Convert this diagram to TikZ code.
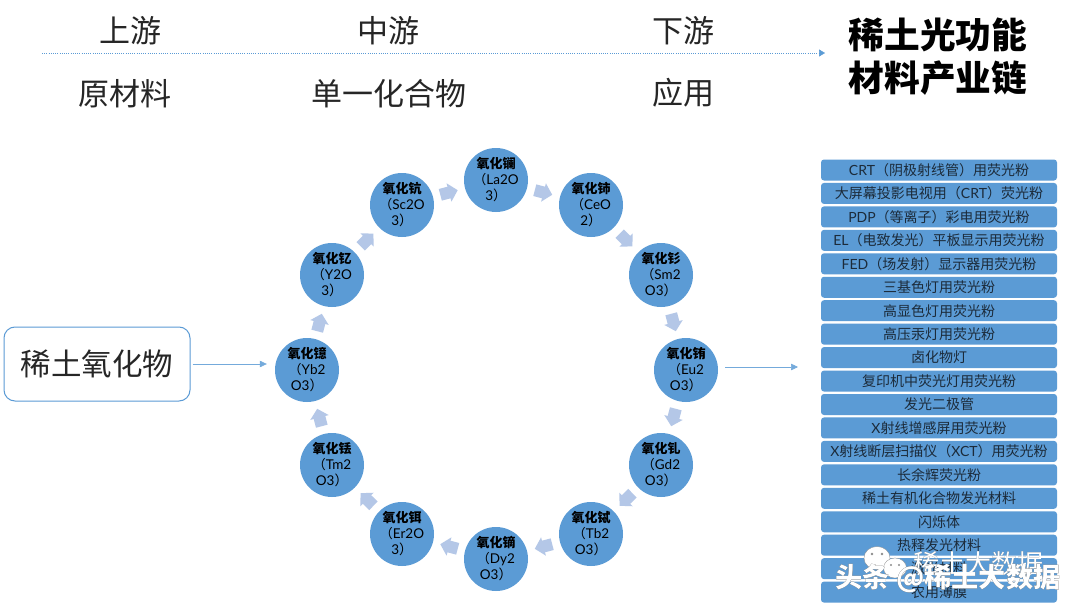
\documentclass[tikz,border=0pt]{standalone}
\usepackage{fontspec}
\usepackage[outline]{contour}
\usetikzlibrary{calc,arrows.meta}
\setmainfont{Noto Sans CJK SC}
\newfontfamily\lat{Lato}
\definecolor{blu}{HTML}{5B9BD5}
\definecolor{pale}{HTML}{B4C7E7}
\definecolor{ink}{HTML}{1C2B3A}
\tikzset{
 x=1pt,y=-1pt,
 head/.style={font=\fontsize{31}{31}\selectfont,text=black!85,inner sep=0pt},
 ttl/.style={font=\fontsize{35.7}{36}\selectfont\bfseries,text=black,inner sep=0pt},
 ball/.style={circle,fill=blu,minimum size=64pt,inner sep=-10pt,align=center,text width=54pt,text=black,font=\fontsize{13}{16}\selectfont},
 bar/.style={rounded corners=3pt,fill=blu,minimum width=236pt,minimum height=21pt,inner sep=0pt,text=ink,font=\fontsize{14}{14}\selectfont},
 conn/.style={draw=blu!85,line width=.6pt,-{Triangle[length=7pt,width=6.5pt]}},
}
% a pale block arrow half way between two named circles, along the line joining them
\newcommand{\hoparrow}[2]{%
 \pgfmathanglebetweenpoints{\pgfpointanchor{#1}{center}}{\pgfpointanchor{#2}{center}}%
 \let\hopangle\pgfmathresult
 \fill[pale,shift={($(#1)!.5!(#2)$)},rotate=\hopangle] (-9,-6) -- (0,-6) -- (0,-9.5) -- (9,0) -- (0,9.5) -- (0,6) -- (-9,6) -- cycle;}
\newcommand{\ballnode}[5]{\node[ball] (#1) at (#2,#3) {\textbf{#4}\\（{\lat\fontsize{13.5}{16}\selectfont #5}};}
\begin{document}
\begin{tikzpicture}
\useasboundingbox (0,0) rectangle (1080,613);
\fill[white] (0,0) rectangle (1080,613);
\node[head] (h1) at (130,31) {上游};
\node[head] (h2) at (388,31) {中游};
\node[head] (h3) at (683,31) {下游};
\node[head] (s1) at (125,94) {原材料};
\node[head] (s2) at (389,94) {单一化合物};
\node[head] (s3) at (683,93) {应用};
\node[ttl] (t1) at (938,35) {稀土光功能};
\node[ttl] (t2) at (938,78) {材料产业链};
\coordinate (flowa) at (42,53);
\coordinate (flowb) at (825,53);
\draw[blu,line width=.5pt,dash pattern=on 1pt off 1.2pt,-{Triangle[length=6pt,width=7pt]}] (flowa) -- (flowb);

\node[draw=blu,line width=1pt,fill=white,rounded corners=11pt,minimum width=186pt,minimum height=74pt,inner sep=0pt,font=\fontsize{30.5}{30}\selectfont,text=black!85] (box) at (97,364) {稀土氧化物};

\ballnode{la}{496}{180}{氧化镧}{La2O\\3{\rmfamily ）}}
\ballnode{ce}{591}{205}{氧化铈}{CeO\\2{\rmfamily ）}}
\ballnode{sm}{661}{275}{氧化钐}{Sm2\\O3{\rmfamily ）}}
\ballnode{eu}{686}{370}{氧化铕}{Eu2\\O3{\rmfamily ）}}
\ballnode{gd}{661}{465}{氧化钆}{Gd2\\O3{\rmfamily ）}}
\ballnode{tb}{591}{534}{氧化铽}{Tb2\\O3{\rmfamily ）}}
\ballnode{dy}{496}{559}{氧化镝}{Dy2\\O3{\rmfamily ）}}
\ballnode{er}{402}{534}{氧化铒}{Er2O\\3{\rmfamily ）}}
\ballnode{tm}{332}{465}{氧化铥}{Tm2\\O3{\rmfamily ）}}
\ballnode{yb}{307}{370}{氧化镱}{Yb2\\O3{\rmfamily ）}}
\ballnode{y}{332}{275}{氧化钇}{Y2O\\3{\rmfamily ）}}
\ballnode{sc}{402}{205}{氧化钪}{Sc2O\\3{\rmfamily ）}}

\hoparrow{la}{ce}
\hoparrow{ce}{sm}
\hoparrow{sm}{eu}
\hoparrow{eu}{gd}
\hoparrow{gd}{tb}
\hoparrow{tb}{dy}
\hoparrow{dy}{er}
\hoparrow{er}{tm}
\hoparrow{tm}{yb}
\hoparrow{yb}{y}
\hoparrow{y}{sc}
\hoparrow{sc}{la}

\draw[conn,shorten <=2pt,shorten >=8pt] (box.east) -- (box.east -| yb.west);
\coordinate (euout) at (798,367);
\draw[conn,shorten <=7pt] (eu.east |- euout) -- (euout);

\foreach \n/\t [count=\i from 0] in {
 b1/{{\lat CRT}（阴极射线管）用荧光粉},
 b2/{大屏幕投影电视用（{\lat CRT}）荧光粉},
 b3/{{\lat PDP}（等离子）彩电用荧光粉},
 b4/{{\lat EL}（电致发光）平板显示用荧光粉},
 b5/{{\lat FED}（场发射）显示器用荧光粉},
 b6/{三基色灯用荧光粉},
 b7/{高显色灯用荧光粉},
 b8/{高压汞灯用荧光粉},
 b9/{卤化物灯},
 b10/{复印机中荧光灯用荧光粉},
 b11/{发光二极管},
 b12/{{\lat X}射线增感屏用荧光粉},
 b13/{{\lat X}射线断层扫描仪（{\lat XCT}）用荧光粉},
 b14/{长余辉荧光粉},
 b15/{稀土有机化合物发光材料},
 b16/{闪烁体},
 b17/{热释发光材料},
 b18/{激光材料},
 b19/{农用薄膜}}
 {\node[bar] (\n) at (939,{170+23.45*\i}) {\t};}

% watermark
\fill[white,draw=black!45,line width=.3pt] (877,558) ellipse [x radius=13,y radius=11.5];
\fill[white,draw=black!45,line width=.3pt] (895,568) ellipse [x radius=11.5,y radius=10];
\fill[black!45] (872,554) circle (1.4) (882,554) circle (1.4) (891,565) circle (1.2) (899,565) circle (1.2);
\contourlength{.5pt}
\node[inner sep=0pt,font=\fontsize{26}{26}\selectfont] (wm1) at (978,564) {\contour{black!60}{\textcolor{white}{稀土大数据}}};
\contourlength{1.1pt}
\node[inner sep=0pt,font=\fontsize{27.2}{27}\selectfont\bfseries] (wm2) at (948,579) {\contour{black!85}{\textcolor{white}{头条 @稀土大数据}}};
\end{tikzpicture}
\end{document}
